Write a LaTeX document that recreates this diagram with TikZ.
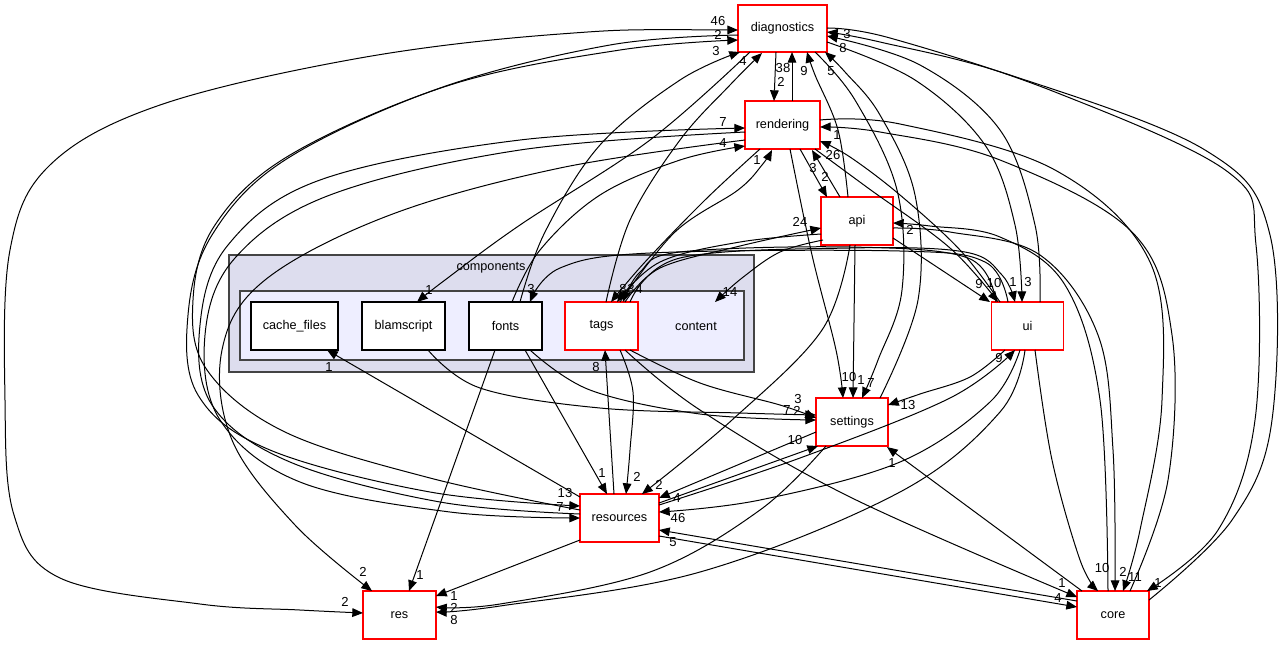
\documentclass[tikz,border=0pt]{standalone}
\usepackage{fontspec}
\setmainfont{Liberation Sans}
\usetikzlibrary{arrows.meta,calc}
\definecolor{clout}{HTML}{DDDDEE}
\definecolor{clin}{HTML}{EEEEFF}
\definecolor{clborder}{HTML}{444444}
\newcommand\elab[3]{\node[lbl] (#1) at (#2) {#3};}
\begin{document}
\begin{tikzpicture}[x=0.75pt,y=-0.75pt,
  box/.style={draw=black, fill=white, line width=0.9pt, minimum height=36pt, inner sep=0pt, font=\fontsize{9.5}{11}\selectfont},
  rbox/.style={box, draw=red},
  e/.style={line width=0.75pt, -{Triangle[length=8pt,width=6.5pt]}},
  lbl/.style={inner sep=0pt, font=\fontsize{9.8}{10}\selectfont},
  sm/.style={smooth, tension=0.6}]
\useasboundingbox (0,0) rectangle (1280,644);
\fill[white] (0,0) rectangle (1280,644);
% clusters
\draw[fill=clout, draw=clborder, line width=1.1pt] (229,255) rectangle (754,372);
\node[font=\fontsize{9.5}{11}\selectfont, inner sep=0pt] (complbl) at (491,268) {components};
\draw[fill=clin, draw=clborder, line width=1.1pt] (240,291) rectangle (744,360);
% nodes
\node[rbox, minimum width=66.75pt, minimum height=35.25pt] (diag) at (782.5,28.5) {diagnostics};
\node[rbox, minimum width=56.25pt] (rend) at (782.5,125) {rendering};
\node[rbox, minimum width=54pt] (api) at (857,221) {api};
\node[box, minimum width=65.25pt] (cache) at (294.5,326) {cache\_files};
\node[box, minimum width=62.25pt] (blam) at (403.5,326) {blamscript};
\node[box, minimum width=54.75pt] (fonts) at (505.5,326) {fonts};
\node[rbox, minimum width=54.75pt] (tags) at (601.5,326) {tags};
\node[box, draw=none, fill=none, minimum width=54pt] (content) at (696,326) {content};
\node[rbox, minimum width=54pt] (ui) at (1027.5,326) {ui};
\node[rbox, minimum width=54pt] (sett) at (852,422) {settings};
\node[rbox, minimum width=59.25pt] (resc) at (619.5,518) {resources};
\node[rbox, minimum width=54.75pt] (res) at (399.5,615) {res};
\node[rbox, minimum width=54pt] (core) at (1113,615) {core};
% edges
\draw[line width=0.75pt, {Triangle[length=8pt,width=6.5pt]}-{Triangle[length=8pt,width=6.5pt]}] plot[sm] coordinates {($(diag)+(-44.5,1.5)$) (560,34) (360,58) (160,105) (50,165) (10,250) (5,400) (14,515) (60,578) (200,604) (300,610) ($(res)+(-36.5,-2)$)};
\draw[e] plot[sm] coordinates {($(resc)+(-39.5,-8)$) (430,478) (285,432) (207,370) (193,300) (215,225) (290,155) (450,85) (620,50) ($(diag)+(-44.5,11.5)$)};
\draw[e] plot[sm] coordinates {($(diag)+(-44.5,6.5)$) (610,45) (440,88) (285,160) (212,235) (188,315) (198,395) (270,450) (430,492) ($(resc)+(-39.5,-12)$)};
\draw[e] plot[sm] coordinates {($(resc)+(-39.5,-4)$) (440,502) (290,462) (212,405) (200,325) (228,245) (320,180) (520,140) ($(rend)+(-37.5,3)$)};
\draw[e] plot[sm] coordinates {($(rend)+(-37.5,7)$) (520,150) (330,195) (235,258) (205,335) (220,420) (300,482) (450,512) ($(resc)+(-39.5,0)$)};
\draw[e] plot[sm] coordinates {($(rend)+(-37.5,15)$) (560,168) (390,215) (265,280) (222,350) (232,440) (295,525) ($(res)+(-27.5,-24)$)};
\draw[e] plot[sm] coordinates {($(fonts)+(6.5,-24)$) (540,250) (600,195) (680,160) ($(rend)+(-37.5,21)$)};
\draw[e] plot[sm] coordinates {($(fonts)+(14.5,-24)$) (545,232) (600,145) (680,80) ($(diag)+(-42.5,23.5)$)};
\draw[e] plot[sm] coordinates {($(diag)+(-32.5,23.5)$) (650,140) (520,225) (445,280) ($(blam)+(13.5,-24)$)};
\draw[e] plot[sm] coordinates {($(tags)+(4.5,-24)$) (630,220) (680,140) (730,85) ($(diag)+(-20.5,24.5)$)};
\draw[e] ($(diag)+(-6.5,23.5)$) -- ($(rend)+(-8.5,-24)$);
\draw[e] ($(rend)+(9.5,-24)$) -- ($(diag)+(9.5,23.5)$);
\draw[e] plot[sm] coordinates {($(api)+(-9,-24)$) (838,130) (815,75) ($(diag)+(24.5,23.5)$)};
\draw[e] plot[sm] coordinates {($(sett)+(28,-24)$) (918,300) (915,195) (880,115) (845,72) ($(diag)+(42.5,23.5)$)};
\draw[e] plot[sm] coordinates {($(diag)+(32.5,23.5)$) (855,100) (897,190) (902,290) (878,360) ($(sett)+(10,-24)$)};
\draw[e] plot[sm] coordinates {($(ui)+(12.5,-24)$) (1035,225) (1000,130) (920,65) ($(diag)+(44.5,7.5)$)};
\draw[e] plot[sm] coordinates {($(diag)+(44.5,13.5)$) (915,80) (985,145) (1015,225) ($(ui)+(-5.5,-24)$)};
\draw[e] plot[sm] coordinates {($(core)+(36,-15)$) (1232,520) (1272,420) (1270,235) (1205,150) (1010,75) (880,42) ($(diag)+(44.5,3.5)$)};
\draw[e] plot[sm] coordinates {($(diag)+(44.5,-0.5)$) (890,38) (1055,92) (1228,172) (1256,245) (1255,420) (1218,530) ($(core)+(34,-24)$)};
\draw[e] plot[sm] coordinates {($(core)+(17,-24)$) (1168,480) (1172,335) (1132,232) (1000,160) (880,132) ($(rend)+(37.5,2)$)};
\draw[e] plot[sm] coordinates {($(rend)+(37.5,-5)$) (900,124) (1055,170) (1150,262) (1162,400) (1140,530) ($(core)+(10,-24)$)};
\draw[e] plot[sm] coordinates {($(ui)+(-27.5,-24)$) (960,250) (900,195) (850,157) ($(rend)+(37.5,16)$)};
\draw[e] plot[sm] coordinates {($(rend)+(32.5,24)$) (868,188) (950,248) ($(ui)+(-29.5,-24)$)};
\draw[e] ($(api)+(-17,-24)$) -- ($(rend)+(29.5,25)$);
\draw[e] ($(rend)+(17.5,24)$) -- ($(api)+(-30,-24)$);
\draw[e] plot[sm] coordinates {($(tags)+(18.5,-24)$) (675,232) (738,190) (762,165) ($(rend)+(-10.5,25)$)};
\draw[e] plot[sm] coordinates {($(core)+(-5,-24)$) (1100,400) (1065,285) (1000,237) (930,226) ($(api)+(36,2)$)};
\draw[e] plot[sm] coordinates {($(api)+(36,7)$) (950,232) (1040,255) (1098,335) (1113,450) ($(core)+(2,-24)$)};
\draw[e] plot[sm] coordinates {($(tags)+(23.5,-24)$) (660,268) (740,246) ($(api)+(-36,7)$)};
\draw[e] plot[sm] coordinates {($(api)+(-34,19)$) (780,252) (742,278) ($(content)+(19,-24)$)};
\draw[e] ($(api)+(36,17)$) -- ($(ui)+(-37.5,-24)$);
\draw[e] plot[sm] coordinates {($(tags)+(28.5,-24)$) (680,258) (850,248) (965,252) (1002,275) ($(ui)+(-12.5,-24)$)};
\draw[e] plot[sm] coordinates {($(ui)+(-19.5,-24)$) (985,262) (900,251) (650,253) (560,268) ($(fonts)+(24.5,-24)$)};
\draw[e] plot[sm] coordinates {($(api)+(-36,13)$) (740,242) (660,262) ($(tags)+(15.5,-24)$)};
\draw[e] plot[sm] coordinates {($(rend)+(-22.5,24)$) (705,200) (645,262) ($(tags)+(9.5,-24)$)};
\draw[e] plot[sm] coordinates {($(ui)+(-31.5,-24)$) (968,258) (850,247) (680,252) (640,272) ($(tags)+(21.5,-24)$)};
\draw[e] plot[sm] coordinates {($(resc)+(39.5,-13)$) (800,458) (950,398) ($(ui)+(-12.5,24)$)};
\draw[e] plot[sm] coordinates {($(ui)+(-22.5,24)$) (970,377) (920,394) ($(sett)+(36,-17)$)};
\draw[e] plot[sm] coordinates {($(ui)+(-7.5,24)$) (990,402) (900,462) (760,500) ($(resc)+(39.5,-6)$)};
\draw[e] plot[sm] coordinates {($(ui)+(-2.5,24)$) (1000,412) (900,492) (700,572) (500,606) ($(res)+(36.5,-3)$)};
\draw[e] plot[sm] coordinates {($(ui)+(7.5,24)$) (1052,460) (1080,560) ($(core)+(-15,-24)$)};
\draw[e] plot[sm] coordinates {($(rend)+(7.5,24)$) (812,255) (836,350) ($(sett)+(-9,-24)$)};
\draw[e] ($(api)+(-2,24)$) -- ($(sett)+(1,-24)$);
\draw[e] plot[sm] coordinates {($(blam)+(24.5,24)$) (480,388) (600,408) (740,413) ($(sett)+(-36,-7)$)};
\draw[e] plot[sm] coordinates {($(fonts)+(24.5,24)$) (590,390) (700,414) ($(sett)+(-36,-2)$)};
\draw[e] plot[sm] coordinates {($(tags)+(28.5,24)$) (700,383) (780,405) ($(sett)+(-36,-4)$)};
\draw[e] ($(resc)+(39.5,-15)$) -- ($(sett)+(-34,24)$);
\draw[e] ($(sett)+(-36,10)$) -- ($(resc)+(39.5,-20)$);
\draw[e] ($(core)+(-31,-24)$) -- ($(sett)+(35,25)$);
\draw[e] ($(fonts)+(19.5,24)$) -- ($(resc)+(-12.5,-24)$);
\draw[e] plot[sm] coordinates {($(tags)+(18.5,24)$) (633,392) (630,450) ($(resc)+(6.5,-24)$)};
\draw[e] ($(resc)+(-5.5,-24)$) -- ($(tags)+(3.5,24)$);
\draw[e] plot[sm] coordinates {($(api)+(-7,24)$) (822,330) (732,420) ($(resc)+(22.5,-24)$)};
\draw[e] ($(core)+(-36,-14)$) -- ($(resc)+(39.5,12)$);
\draw[e] ($(resc)+(39.5,18)$) -- ($(core)+(-36,-8)$);
\draw[e] ($(resc)+(-39.5,-21)$) -- ($(cache)+(32.5,24)$);
\draw[e] ($(fonts)+(-10.5,24)$) -- ($(res)+(9.5,-24)$);
\draw[e] ($(resc)+(-39.5,22)$) -- ($(res)+(36.5,-19)$);
\draw[e] plot[sm] coordinates {($(sett)+(-26,24)$) (760,510) (650,572) (500,604) ($(res)+(36.5,-8)$)};
\draw[e] plot[sm] coordinates {($(tags)+(23.5,24)$) (700,410) (850,497) ($(core)+(-36,-18)$)};
% labels
\elab{l1}{718,21}{46}
\elab{l2}{718,35}{2}
\elab{l3}{716,51}{3}
\elab{l4}{743,61}{4}
\elab{l5}{783,68}{38}
\elab{l6}{781,82}{2}
\elab{l7}{804,71}{9}
\elab{l8}{831,71}{5}
\elab{l9}{847,34}{3}
\elab{l10}{843,48}{8}
\elab{l11}{723,122}{7}
\elab{l12}{723,143}{4}
\elab{l13}{757,160}{1}
\elab{l14}{813,168}{3}
\elab{l15}{833,155}{26}
\elab{l16}{837,135}{1}
\elab{l17}{825,177}{2}
\elab{l18}{800,222}{24}
\elab{l19}{910,230}{2}
\elab{l20}{730,292}{14}
\elab{l21}{429,290}{1}
\elab{l22}{531,289}{3}
\elab{l23}{623,289}{8}
\elab{l24}{631,289}{3}
\elab{l25}{639,289}{4}
\elab{l26}{979,284}{9}
\elab{l27}{994,283}{10}
\elab{l28}{1013,282}{1}
\elab{l29}{1028,282}{3}
\elab{l30}{999,358}{9}
\elab{l31}{908,405}{13}
\elab{l32}{849,377}{10}
\elab{l33}{861,380}{1}
\elab{l34}{871,383}{7}
\elab{l35}{798,399}{3}
\elab{l36}{797,411}{2}
\elab{l37}{787,410}{7}
\elab{l38}{795,440}{10}
\elab{l39}{892,463}{1}
\elab{l40}{602,473}{1}
\elab{l41}{637,477}{2}
\elab{l42}{659,485}{2}
\elab{l43}{565,493}{13}
\elab{l44}{560,507}{7}
\elab{l45}{677,498}{4}
\elab{l46}{678,518}{46}
\elab{l47}{673,542}{5}
\elab{l48}{596,367}{8}
\elab{l49}{329,367}{1}
\elab{l50}{363,572}{2}
\elab{l51}{420,575}{1}
\elab{l52}{345,602}{2}
\elab{l53}{454,596}{1}
\elab{l54}{454,608}{2}
\elab{l55}{454,620}{8}
\elab{l56}{1102,568}{10}
\elab{l57}{1123,572}{2}
\elab{l58}{1135,577}{11}
\elab{l59}{1158,583}{1}
\elab{l60}{1062,583}{1}
\elab{l61}{1058,598}{4}
\end{tikzpicture}
\end{document}
